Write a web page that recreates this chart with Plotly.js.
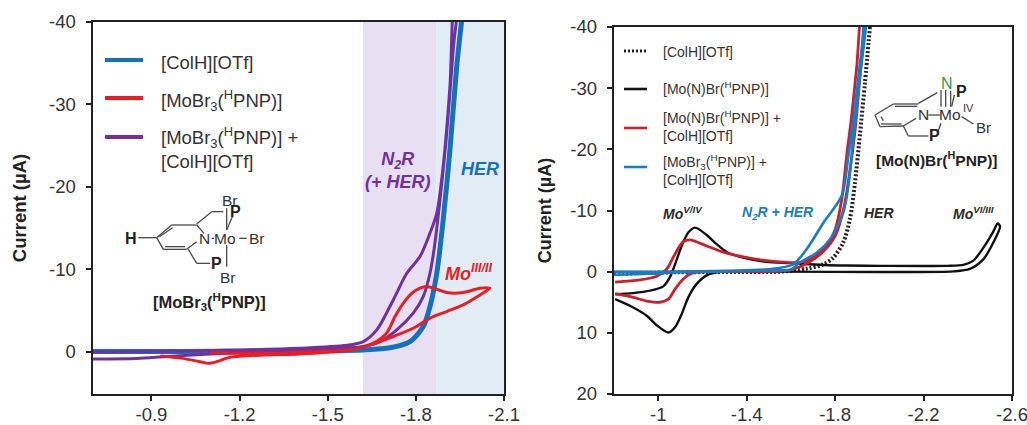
<!DOCTYPE html>
<html>
<head>
<meta charset="utf-8">
<script src="https://cdn.plot.ly/plotly-3.0.1.min.js"></script>
<style>html,body{margin:0;padding:0;background:#fff;overflow:hidden}#chart{width:1027px;height:425px}</style>
</head>
<body>
<div id="chart"></div>
<script>
// ---------- left panel data ----------
const colhLeftV = [-0.7,-1.0,-1.3,-1.5,-1.62,-1.712,-1.78,-1.825,-1.848,-1.871,-1.893,-1.916,-1.939,-1.956];
const colhLeftI = [-0.05,-0.05,-0.1,-0.15,-0.24,-0.5,-1.25,-3.07,-5.5,-9.5,-16,-24.5,-34.6,-40.2];

const moPlusLeftV = [-0.7,-0.85,-0.952,-1.1,-1.406,-1.564,-1.621,-1.678,-1.735,-1.791,-1.825,-1.848,-1.865,-1.882,-1.905,-1.927,-1.944,
                     -1.935,-1.916,-1.893,-1.871,-1.848,-1.814,-1.769,-1.723,-1.667,-1.621,-1.564,-1.406,-1.0,-0.7];
const moPlusLeftI = [0.85,0.8,0.55,0.25,-0.15,-0.45,-0.65,-1.26,-2.67,-4.7,-6.7,-9.54,-13.2,-18.4,-26.5,-36.6,-44,
                     -44,-32.2,-22.5,-16.8,-14.4,-11.56,-9.54,-6.3,-2.67,-1.26,-0.8,-0.45,-0.1,0];

const moLeftV = [-0.93,-1.0,-1.065,-1.094,-1.122,-1.167,-1.292,-1.406,-1.564,-1.644,-1.723,-1.791,-1.848,-1.905,-1.961,-2.018,-2.052,
                 -2.018,-1.961,-1.905,-1.871,-1.837,-1.814,-1.786,-1.757,-1.729,-1.7,-1.655,-1.587,-1.451,-1.3375,-1.1];
const moLeftI = [0.5,0.75,1.18,1.38,1.18,0.65,0.36,0.24,-0.17,-0.85,-1.87,-2.87,-4.09,-4.9,-5.7,-6.9,-7.73,
                 -7.73,-7.2,-7.2,-7.6,-7.93,-7.73,-7.1,-5.9,-4.3,-2.27,-1.06,-0.33,-0.05,0.15,0.1];

const regionN2R = [-1.62,-1.87];
const regionHER = [-1.87,-2.1];

// ---------- right panel data ----------
const colhRightV = [-0.8,-1.0,-1.3,-1.551,-1.672,-1.747,-1.792,-1.837,-1.867,-1.89,-1.913,-1.935,-1.958];
const colhRightI = [0.4,0.15,0.05,0,-0.5,-1.2,-2.3,-4.8,-8.6,-14.6,-22.7,-30.9,-40.2];

const moNV = [-0.805,-0.887,-0.948,-0.993,-1.046,-1.076,-1.106,-1.136,-1.174,-1.219,-1.279,-1.55,-2.003,-2.335,-2.41,-2.47,-2.516,-2.546,
              -2.535,-2.516,-2.47,-2.425,-2.38,-2.305,-2.003,-1.852,-1.747,-1.596,-1.49,-1.383,-1.31,-1.264,-1.219,-1.166,-1.136,-1.106,-1.076,-1.053,-1.023,-0.963,-0.886,-0.805];
const moNI = [4.5,5.85,7.2,8.75,9.95,9.1,6.95,4.2,2.0,0.6,0.03,0,0.05,-0.05,-0.45,-2,-4.8,-7.4,
              -7.9,-6.6,-3.9,-1.8,-1.1,-0.95,-0.95,-1.0,-1.1,-1.4,-1.6,-2.3,-3.2,-4.5,-6.0,-7.2,-6.4,-4.2,-1.2,0.9,2.4,3.1,3.5,3.7];

const moNPlusV = [-0.805,-0.887,-0.948,-1.008,-1.046,-1.076,-1.113,-1.151,-1.219,-1.5,-1.6,-1.68,-1.75,-1.8,-1.84,-1.865,-1.89,-1.91,-1.935,
                  -1.925,-1.898,-1.875,-1.852,-1.83,-1.8,-1.762,-1.701,-1.641,-1.49,-1.385,-1.294,-1.219,-1.144,-1.113,-1.076,-1.038,-0.993,-0.918,-0.805];
const moNPlusI = [3.6,4.2,4.8,5,4.5,2.86,1.2,0.25,0,0,-0.3,-1.5,-3.4,-5.8,-10.5,-16,-23,-31,-44,
                  -44,-33.6,-25.5,-18.9,-11.8,-6.9,-4.2,-2.3,-1.5,-1.8,-2.4,-3.2,-4.2,-5.2,-4.9,-2.9,-0.4,0.75,1.35,1.7];

const moBrPlusV = [-0.8,-0.95,-1.1,-1.3,-1.5,-1.6,-1.641,-1.717,-1.777,-1.837,-1.86,-1.882,-1.913,-1.947,
                   -1.942,-1.92,-1.89,-1.86,-1.83,-1.747,-1.672,-1.61,-1.5,-1.3,-1.1,-0.8];
const moBrPlusI = [0.5,0.35,0.1,-0.05,-0.2,-0.35,-1.5,-3.1,-5.3,-9.7,-14,-21.6,-32,-44,
                   -44,-36.4,-27,-18.9,-12.4,-8,-3.7,-1.2,-0.4,-0.15,0,0];

// ---------- axis ticks ----------
const leftXTicks = [-0.9,-1.2,-1.5,-1.8,-2.1];
const leftXLabels = ["-0.9","-1.2","-1.5","-1.8","-2.1"];
const leftYTicks = [-40,-30,-20,-10,0];
const leftYLabels = ["-40","-30","-20","-10","0"];
const rightXTicks = [-1,-1.4,-1.8,-2.2,-2.6];
const rightXLabels = ["-1","-1.4","-1.8","-2.2","-2.6"];
const rightYTicks = [-40,-30,-20,-10,0,10,20];
const rightYLabels = ["-40","-30","-20","-10","0","10","20"];

// ---------- colours ----------
const BLUE="#1272bb", RED="#ea1c24", PURPLE="#7030a0", DARKRED="#c8202c", RBLUE="#1a7cc4", INK="#333333";

const W=1027,H=425;
const fx=p=>p/W, fy=p=>1-p/H;
const FONT="Liberation Sans, Arial, sans-serif";

function tr(x,y,name,color,width,xa,ya,dash){
  return {type:"scatter",mode:"lines",x:x,y:y,name:name,xaxis:xa,yaxis:ya,showlegend:false,hoverinfo:"skip",
    line:{color:color,width:width,shape:"spline",smoothing:0.8,dash:dash||"solid"}};
}
const data=[
  tr(colhLeftV,colhLeftI,"[ColH][OTf]",BLUE,5,"x","y"),
  tr(moPlusLeftV,moPlusLeftI,"[MoBr3(HPNP)] + [ColH][OTf]",PURPLE,3,"x","y"),
  tr(moLeftV,moLeftI,"[MoBr3(HPNP)]",RED,3,"x","y"),
  tr(colhRightV,colhRightI,"[ColH][OTf]","#222",4,"x2","y2","2px,2px"),
  tr(moNV,moNI,"[Mo(N)Br(HPNP)]","#111",2.4,"x2","y2"),
  tr(moNPlusV,moNPlusI,"[Mo(N)Br(HPNP)] + [ColH][OTf]",DARKRED,2.8,"x2","y2"),
  tr(moBrPlusV,moBrPlusI,"[MoBr3(HPNP)] + [ColH][OTf]",RBLUE,2.6,"x2","y2")
];

const shapes=[
  {type:"rect",xref:"x",yref:"y domain",x0:regionN2R[0],x1:regionN2R[1],y0:0,y1:1,fillcolor:"#e8dff2",line:{width:0},layer:"below"},
  {type:"rect",xref:"x",yref:"y domain",x0:regionHER[0],x1:regionHER[1],y0:0,y1:1,fillcolor:"#e2ecf5",line:{width:0},layer:"below"}
];
function seg(x0,y0,x1,y1,color,w){
  shapes.push({type:"line",xref:"paper",yref:"paper",x0:fx(x0),x1:fx(x1),y0:fy(y0),y1:fy(y1),line:{color:color,width:w}});
}
// legend keys, left
[[60,BLUE],[98,RED],[137,PURPLE]].forEach(k=>seg(105,k[0],143,k[0],k[1],4));
// legend keys, right
shapes.push({type:"line",xref:"paper",yref:"paper",x0:fx(624),x1:fx(647),y0:fy(51),y1:fy(51),line:{color:"#222",width:3,dash:"2px,2px"}});
[[89,"#111"],[128,DARKRED],[167,RBLUE]].forEach(k=>seg(624,k[0],647,k[0],k[1],2.6));

// structure drawings (zoom-crop coordinates)
const leftBonds=[[415,713,470,713],[470,713,515,675],[515,675,590,675],[590,675,612,700],[470,713,490,748],[490,748,560,748],[560,748,590,725],
 [478,710,518,683],[495,740,555,740],[590,672,635,635],[635,635,670,635],[565,748,590,790],[590,790,630,790],[680,625,680,690],[680,735,680,800],[680,690,697,650],[635,715,642,715],[718,715,740,715]];
leftBonds.forEach(b=>seg(b[0]/3,b[1]/3,b[2]/3,b[3]/3,"#4a4a4a",1.3));
const rightBonds=[[483,270,483,320],[497,270,497,320],[512,272,512,320],[523,285,515,320],[415,310,472,278],[415,312,340,312],[340,312,285,345],[285,345,300,380],[300,380,370,378],[370,378,408,355],
 [412,319,345,319],[303,372,365,372],[370,378,385,408],[385,408,445,408],[445,345,480,345],[483,370,475,392],[545,350,580,372],[303,350,310,362]];
rightBonds.forEach(b=>seg(780+b[0]/3,b[1]/3,780+b[2]/3,b[3]/3,"#4a4a4a",1.3));

const annotations=[];
function txt(x,y,t,size,color,anchor,extra){
  annotations.push(Object.assign({xref:"paper",yref:"paper",x:fx(x),y:fy(y),text:t,showarrow:false,xanchor:anchor||"left",yanchor:"middle",borderpad:0,
    font:{family:FONT,size:size,color:color},align:"left"},extra||{}));
}
const boldI=s=>"<b><i>"+s+"</i></b>";
// left legend text
txt(160,62,"[ColH][OTf]",18.5,INK);
txt(160,100,"[MoBr<sub>3</sub>(<sup>H</sup>PNP)]",18.5,INK);
txt(160,148,"[MoBr<sub>3</sub>(<sup>H</sup>PNP)] +<br>[ColH][OTf]",18.5,INK);
// left region labels
txt(398,170,boldI("N<sub>2</sub>R<br>(+ HER)"),18,PURPLE,"center",{align:"center"});
txt(480,169,boldI("HER"),18,BLUE,"center");
txt(468,272,boldI("Mo<sup>III/II</sup>"),18,RED,"center");
// left structure text
txt(131,238,"<b>H</b>",16,"#222","center");
txt(204,238,"N",15.5,"#333","center");
txt(225,238,"Mo",15.5,"#333","center");
txt(257,238,"Br",15.5,"#333","center");
txt(230,201,"Br",15.5,"#333","center");
txt(235,211,"<b>P</b>",16,"#222","center");
txt(216,263,"<b>P</b>",16,"#222","center");
txt(228,277,"Br",15.5,"#333","center");
txt(209,302,"<b>[MoBr<sub>3</sub>(<sup>H</sup>PNP)]</b>",16.5,"#222","center");
// right legend text
txt(662,52,"[ColH][OTf]",14,INK);
txt(662,88,"[Mo(N)Br(<sup>H</sup>PNP)]",14,INK);
txt(662,126,"[Mo(N)Br(<sup>H</sup>PNP)] +<br>[ColH][OTf]",14,INK);
txt(662,170,"[MoBr<sub>3</sub>(<sup>H</sup>PNP)] +<br>[ColH][OTf]",14,INK);
// right labels
txt(683,213,boldI("Mo<sup>V/IV</sup>"),14,"#2a2a2a","center");
txt(778,213,boldI("N<sub>2</sub>R + HER"),14,RBLUE,"center");
txt(879,213,boldI("HER"),14,"#2a2a2a","center");
txt(973,213,boldI("Mo<sup>VI/III</sup>"),14,"#2a2a2a","center");
// right structure text
txt(947,83,"N",16,"#2f9e44","center");
txt(961,92,"<b>P</b>",16,"#222","center");
txt(923,115,"N",15.5,"#333","center");
txt(950,115,"Mo",15.5,"#333","center");
txt(968,108,"IV",11,"#333","center");
txt(983,127,"Br",15,"#333","center");
txt(934,135,"<b>P</b>",16,"#222","center");
txt(937,159,"<b>[Mo(N)Br(<sup>H</sup>PNP)]</b>",15.5,"#222","center");

const tickStyle={ticks:"outside",ticklen:5,tickwidth:2,tickcolor:"#222",showline:true,linecolor:"#222",linewidth:2.2,mirror:true,
  showgrid:false,zeroline:false,tickfont:{family:FONT,size:18.5,color:INK}};
function xax(dom,range,vals,labels){
  return Object.assign({domain:dom,range:range,tickmode:"array",tickvals:vals,ticktext:labels,ticklabelstandoff:-2,ticklabeloverflow:"allow"},tickStyle);
}
function yax(dom,range,vals,labels,gap,standoff,size){
  return Object.assign({domain:dom,range:range,tickmode:"array",tickvals:vals,ticktext:labels,ticklabelstandoff:gap,
    title:{text:"<b>Current (µA)</b>",standoff:standoff,font:{family:FONT,size:size,color:"#222"}}},tickStyle);
}
const xa=xax([fx(92.7),fx(504)],[-0.7,-2.1],leftXTicks,leftXLabels); xa.anchor="y";
const ya=yax([1-394/H,1-22/H],[5.1,-40],leftYTicks,leftYLabels,6,18,18.5); ya.anchor="x";
const xb=xax([fx(614),fx(1012)],[-0.8,-2.6],rightXTicks,rightXLabels); xb.anchor="y2";
const yb=yax([1-394/H,1-27/H],[20,-40],rightYTicks,rightYLabels,6,14,18); yb.anchor="x2";

const layout={width:W,height:H,margin:{l:0,r:0,t:0,b:0},paper_bgcolor:"#fff",plot_bgcolor:"#fff",showlegend:false,
  font:{family:FONT},xaxis:xa,yaxis:ya,xaxis2:xb,yaxis2:yb,shapes:shapes,annotations:annotations};
Plotly.newPlot("chart",data,layout,{displayModeBar:false,staticPlot:true});
</script>
</body>
</html>
